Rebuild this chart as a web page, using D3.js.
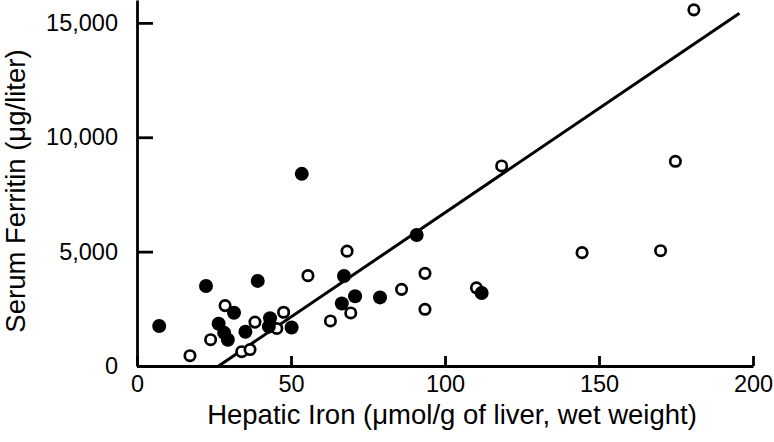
<!DOCTYPE html>
<html><head><meta charset="utf-8">
<script src="https://cdn.jsdelivr.net/npm/d3@7"></script>
<style>
body{margin:0;background:#fff}
text{font-family:"Liberation Sans",Arial,Helvetica,sans-serif;fill:#000}
</style>
</head><body>
<svg id="c" width="774" height="442"></svg>
<script>
// Filled circles
const solidX = [7.2, 22.4, 39.2, 53.5, 26.5, 31.5, 28.3, 29.5, 35.2, 43.2, 42.8, 50.2, 66.5, 67.2, 70.8, 78.9, 90.8, 111.9];
const solidY = [1750, 3500, 3720, 8400, 1850, 2330, 1450, 1150, 1500, 2085, 1720, 1680, 2730, 3935, 3050, 3000, 5730, 3190];
// Open circles
const openX = [17.2, 23.9, 28.6, 34.0, 36.7, 38.3, 45.4, 47.6, 55.5, 62.8, 68.2, 69.4, 85.9, 93.5, 93.5, 110.2, 118.4, 144.5, 170.0, 174.8, 180.8];
const openY = [450, 1150, 2640, 625, 720, 1920, 1640, 2350, 3950, 1970, 5020, 2320, 3350, 4050, 2480, 3420, 8745, 4955, 5040, 8950, 15570];
// Regression line end points
const fitX = [26.5, 195.6];
const fitY = [0, 15420];
const xTicks = [0, 50, 100, 150, 200];
const yTicks = [0, 5000, 10000, 15000];
const xTitle = "Hepatic Iron (\u03bcmol/g of liver, wet weight)";
const yTitle = "Serum Ferritin (\u03bcg/liter)";

const svg = d3.select("#c");
const x = d3.scaleLinear().domain([0, 200]).range([137, 753]);
const y = d3.scaleLinear().domain([0, 16000]).range([366, 0]);

const fmt = d3.format(",");

const gx = svg.append("g").attr("transform", "translate(0,366)")
  .call(d3.axisBottom(x).tickValues(xTicks).tickSizeInner(-10).tickSizeOuter(0).tickPadding(9).tickFormat(d3.format("d")));
const gy = svg.append("g").attr("transform", "translate(137,0)")
  .call(d3.axisLeft(y).tickValues(yTicks).tickSizeInner(-16).tickSizeOuter(0).tickPadding(19).tickFormat(fmt));
[gx, gy].forEach(g => {
  g.selectAll("path,line").attr("stroke", "#000").attr("stroke-width", 2.8);
  g.selectAll("text").attr("font-size", 23.5).attr("font-family", '"Liberation Sans",Arial,Helvetica,sans-serif').attr("fill", "#000");
});

// Regression line
svg.append("path")
  .datum(d3.range(fitX.length))
  .attr("fill", "none").attr("stroke", "#000").attr("stroke-width", 3)
  .attr("d", d3.line().x(i => x(fitX[i])).y(i => y(fitY[i])));

// Open points
svg.append("g").selectAll("circle").data(d3.range(openX.length)).join("circle")
  .attr("cx", i => x(openX[i])).attr("cy", i => y(openY[i])).attr("r", 5.2)
  .attr("fill", "#fff").attr("stroke", "#000").attr("stroke-width", 2.7);

// Solid points
svg.append("g").selectAll("circle").data(d3.range(solidX.length)).join("circle")
  .attr("cx", i => x(solidX[i])).attr("cy", i => y(solidY[i])).attr("r", 7)
  .attr("fill", "#000");

// Titles
svg.append("text").attr("x", 452).attr("y", 424).attr("text-anchor", "middle")
  .attr("font-size", 27.5).text(xTitle);
svg.append("text").attr("transform", "translate(25,191) rotate(-90)").attr("text-anchor", "middle")
  .attr("font-size", 27.5).text(yTitle);
</script>
</body></html>
